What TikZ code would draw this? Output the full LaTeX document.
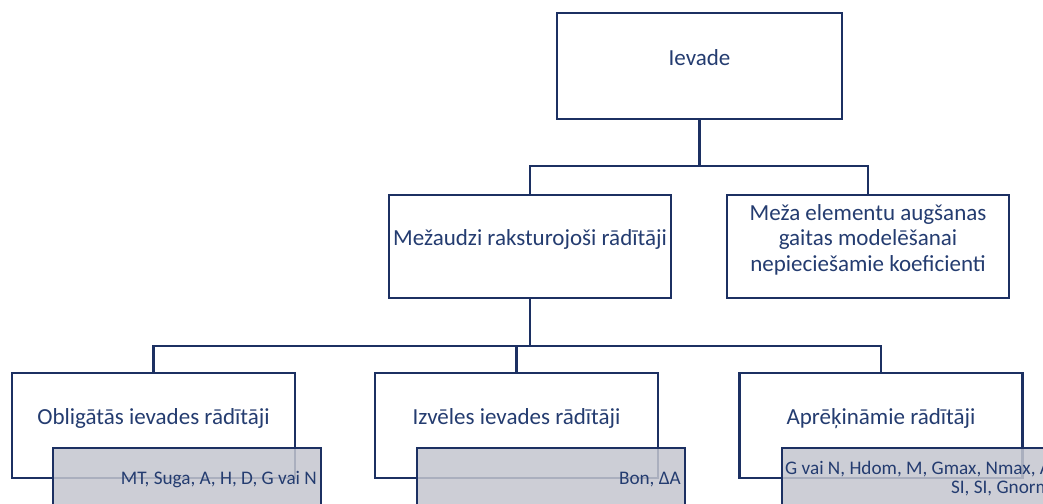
\documentclass[tikz,border=0pt]{standalone}
\usepackage{fontspec}
\setmainfont{Carlito}
\usepackage{tikz}
\usetikzlibrary{positioning,calc}
\definecolor{boxblue}{RGB}{28,48,98}
\definecolor{txtblue}{RGB}{36,60,112}
\definecolor{greyfill}{RGB}{196,198,207}

\begin{document}
\begin{tikzpicture}[x=1pt,y=-1pt,
  box/.style={draw=boxblue,line width=2.3pt,fill=white,text=txtblue,
    minimum width=283pt,minimum height=105pt,inner xsep=1pt,
    align=center,text depth=17pt,font=\fontsize{23}{25.5}\selectfont},
  greybox/.style={draw=boxblue,line width=2.3pt,fill=greyfill,fill opacity=0.85,
    minimum width=268pt,minimum height=105pt},
  small/.style={text=txtblue,inner sep=0pt,align=right,
    font=\fontsize{19.2}{19}\selectfont},
  link/.style={draw=boxblue,line width=2.3pt}
]
\useasboundingbox (0,0) rectangle (1043,503);
\clip (0,0) rectangle (1043,503);

% the top box
\node[box,minimum width=285pt,minimum height=106pt] (ievade) at (699.5,66) {Ievade};

% the second row
\node[box,minimum width=282pt,minimum height=103pt] (mezaudzi) at (530,246.5) {Mežaudzi raksturojoši rādītāji};
\node[box,minimum width=282pt,minimum height=103pt] (koef) at (868,246.5)
  {Meža elementu augšanas\\gaitas modelēšanai\\nepieciešamie koeficienti};

% the third row
\foreach \name/\xcoord/\txt in {oblig/153.5/Obligātās ievades rādītāji,
    izvel/516.5/Izvēles ievades rādītāji,aprek/881/Aprēķināmie rādītāji}
  \node[box] (\name) at (\xcoord,425.5) {\txt};

% the grey boxes
\foreach \i/\xcoord in {1/187,2/551,3/916}
  \node[greybox] (grey\i) at (\xcoord,500.5) {};

\node[small,anchor=east] (list1) at (317,480) {MT, Suga, A, H, D, G vai N};
\node[small,anchor=east] (list2) at (681,480) {Bon, ΔA};
\node[small,anchor=north west] (list3) at (785,461) {G vai N, Hdom, M, Gmax, Nmax, A\\SI, SI, Gnorm};

% the links
\draw[link] (ievade.south) -- ++(0,46) coordinate (top) -| (mezaudzi.north);
\draw[link] (top) -| (koef.north);
\draw[link] (mezaudzi.south) -- ++(0,47) coordinate (mid) -| (oblig.north);
\draw[link] (mid) -| (izvel.north);
\draw[link] (mid) -| (aprek.north);
\end{tikzpicture}
\end{document}
